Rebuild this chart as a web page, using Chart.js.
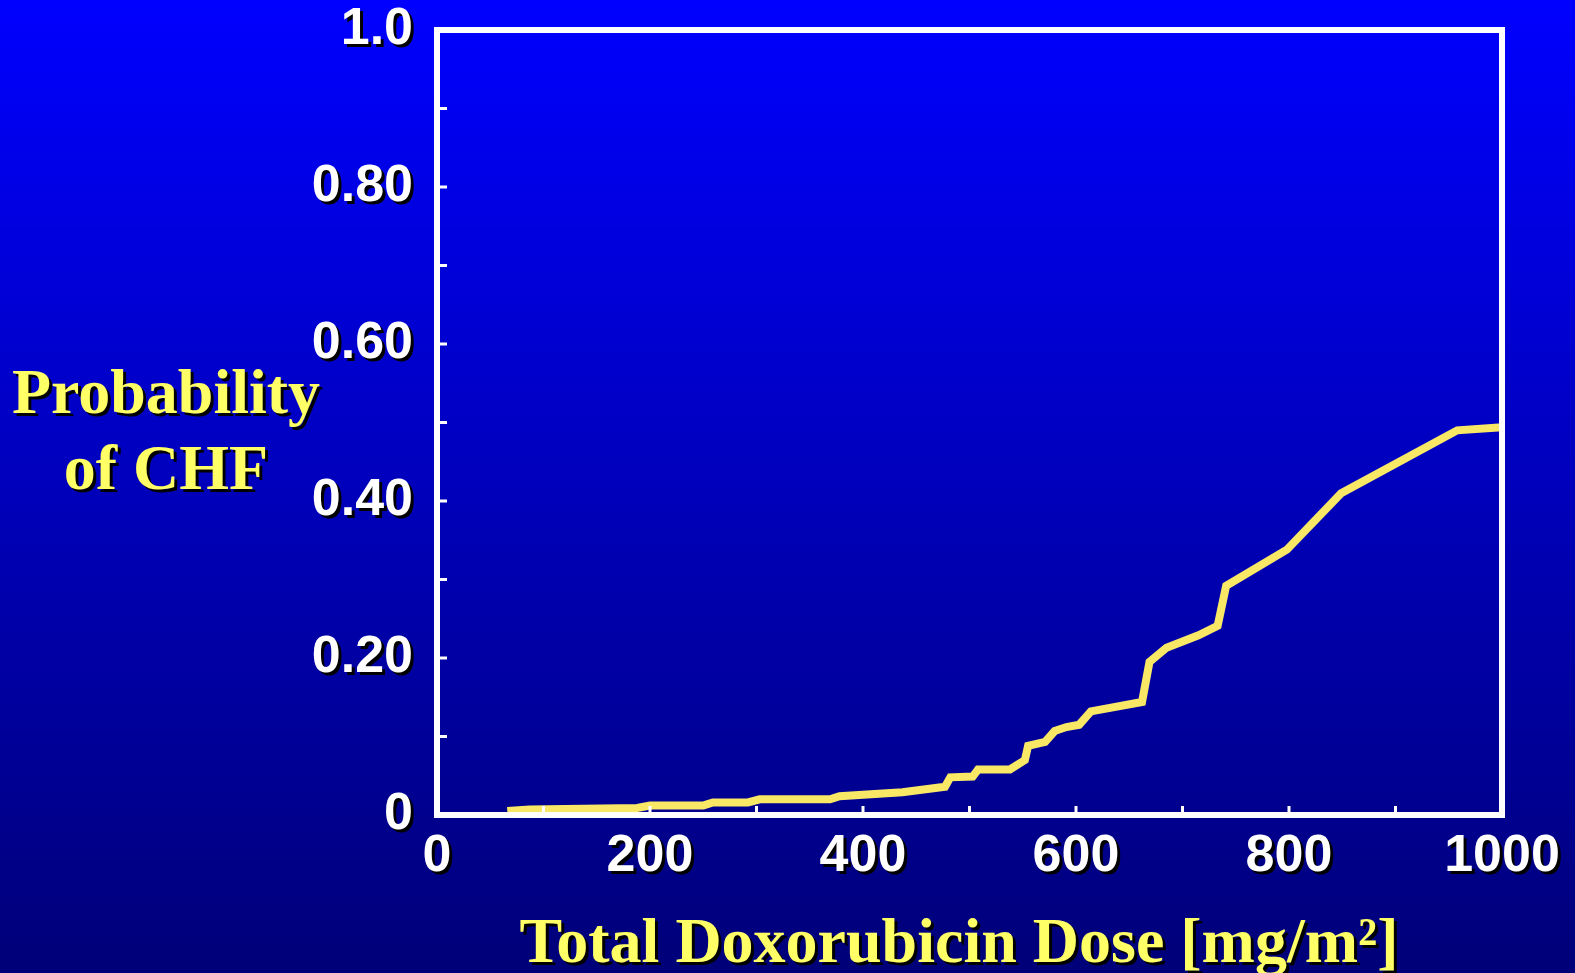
<!DOCTYPE html>
<html>
<head>
<meta charset="utf-8">
<script src="https://cdn.jsdelivr.net/npm/chart.js@4.4.1/dist/chart.umd.min.js"></script>
<style>
html, body { margin: 0; padding: 0; background: #000080; overflow: hidden; }
</style>
</head>
<body>
<canvas id="chf" width="1575" height="973"></canvas>
<script>
var dose = [66, 87, 188, 200, 250, 259, 292, 303, 369, 378, 437, 477, 482, 503, 508, 538, 552, 555,
            571, 580, 591, 603, 614, 662, 669, 685, 715, 733, 741, 798, 849, 958, 1000];
var prob = [0.005, 0.007, 0.009, 0.012, 0.012, 0.016, 0.016, 0.020, 0.020, 0.024, 0.029, 0.036, 0.048,
            0.049, 0.058, 0.058, 0.070, 0.088, 0.093, 0.107, 0.112, 0.115, 0.132, 0.144, 0.195, 0.213,
            0.229, 0.241, 0.292, 0.338, 0.410, 0.490, 0.494];
var xTickLabels = ['0', '', '200', '', '400', '', '600', '', '800', '', '1000'];
var yTickLabels = ['0', '', '0.20', '', '0.40', '', '0.60', '', '0.80', '', '1.0'];
var yTitle = ['Probability', 'of CHF'];
var xTitle = 'Total Doxorubicin Dose [mg/m\u00B2]';

var yellowText = '#ffff66';
var lineColor = '#f8e866';

function shadowOn(ctx) {
    ctx.shadowColor = '#000000';
    ctx.shadowOffsetX = 3;
    ctx.shadowOffsetY = 3;
    ctx.shadowBlur = 0;
}
function shadowOff(ctx) {
    ctx.shadowColor = 'rgba(0,0,0,0)';
    ctx.shadowOffsetX = 0;
    ctx.shadowOffsetY = 0;
}

var slide = {
    id: 'slide',
    beforeDraw: function(chart) {
        var ctx = chart.ctx;
        shadowOff(ctx);
        var g = ctx.createLinearGradient(0, 0, 0, chart.height);
        g.addColorStop(0, '#0000ff');
        g.addColorStop(1, '#000078');
        ctx.fillStyle = g;
        ctx.fillRect(0, 0, chart.width, chart.height);
        shadowOn(ctx);
    },
    beforeDatasetsDraw: function(chart) {
        chart.ctx.save();
        shadowOff(chart.ctx);
    },
    afterDatasetsDraw: function(chart) {
        chart.ctx.restore();
    },
    afterDraw: function(chart) {
        var ctx = chart.ctx;
        var a = chart.chartArea;
        var xs = chart.scales.x, ys = chart.scales.y;
        ctx.save();
        shadowOff(ctx);
        ctx.strokeStyle = '#ffffff';
        ctx.lineWidth = 6;
        ctx.strokeRect(a.left, a.top, a.right - a.left, a.bottom - a.top);
        // inward ticks
        ctx.lineWidth = 3;
        ctx.beginPath();
        xs.ticks.forEach(function(t, i) {
            if (i === 0 || i === xs.ticks.length - 1) return;
            var px = xs.getPixelForTick(i);
            ctx.moveTo(px, a.bottom);
            ctx.lineTo(px, a.bottom - 9);
        });
        ys.ticks.forEach(function(t, i) {
            if (i === 0 || i === ys.ticks.length - 1) return;
            var py = ys.getPixelForTick(i);
            ctx.moveTo(a.left, py);
            ctx.lineTo(a.left + 10, py);
        });
        ctx.stroke();
        // axis titles
        shadowOn(ctx);
        ctx.fillStyle = yellowText;
        ctx.textAlign = 'center';
        ctx.textBaseline = 'alphabetic';
        ctx.font = 'bold 64px "Liberation Serif"';
        ctx.fillText(yTitle[0], 166, 413);
        ctx.fillText(yTitle[1], 166, 489);
        ctx.fillText(xTitle, 959, 962);
        ctx.restore();
    }
};

Chart.defaults.font.family = '"Liberation Sans", Arial, sans-serif';

function noEdgePad(s) {
    s.paddingTop = 0;
    s.paddingBottom = 0;
    s.paddingLeft = 0;
    s.paddingRight = 0;
}

new Chart(document.getElementById('chf'), {
    type: 'line',
    data: {
        datasets: [{
            data: dose.map(function(d, i) { return {x: d, y: prob[i]}; }),
            borderColor: lineColor,
            borderWidth: 8,
            borderJoinStyle: 'miter',
            pointRadius: 0,
            fill: false,
            tension: 0
        }]
    },
    options: {
        responsive: false,
        devicePixelRatio: 1,
        animation: false,
        events: [],
        layout: { padding: { left: 0, right: 73, top: 30, bottom: 0 } },
        plugins: { legend: { display: false }, tooltip: { enabled: false } },
        scales: {
            x: {
                type: 'linear',
                min: 0,
                max: 1000,
                grid: { display: false, drawTicks: false },
                border: { display: false },
                afterFit: function(s) { s.height = 158; noEdgePad(s); },
                ticks: {
                    stepSize: 100,
                    autoSkip: false,
                    maxRotation: 0,
                    padding: 10,
                    color: '#ffffff',
                    font: { size: 52, weight: 'bold' },
                    callback: function(v, i) { return xTickLabels[i]; }
                }
            },
            y: {
                type: 'linear',
                min: 0,
                max: 1,
                grid: { display: false, drawTicks: false },
                border: { display: false },
                afterFit: function(s) { s.width = 437; noEdgePad(s); },
                ticks: {
                    stepSize: 0.1,
                    autoSkip: false,
                    padding: 24,
                    color: '#ffffff',
                    font: { size: 52, weight: 'bold' },
                    callback: function(v, i) { return yTickLabels[i]; }
                }
            }
        }
    },
    plugins: [slide]
});
</script>
</body>
</html>
